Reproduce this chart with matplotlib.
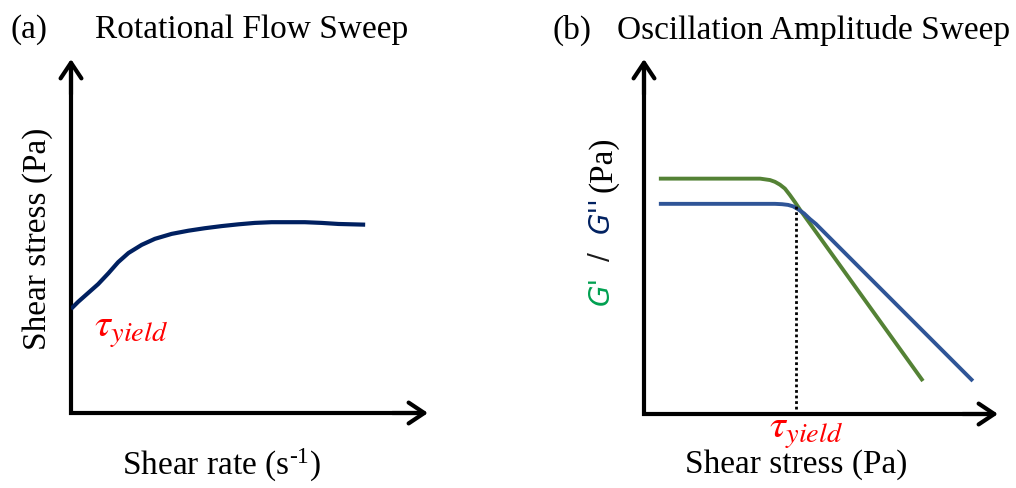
import numpy as np
import matplotlib
matplotlib.use("Agg")
import matplotlib.pyplot as plt

plt.rcParams['font.family'] = ['Liberation Serif', 'DejaVu Serif']
plt.rcParams['mathtext.fontset'] = 'custom'
plt.rcParams['mathtext.rm'] = 'Liberation Serif'
plt.rcParams['mathtext.it'] = 'Liberation Serif:italic'

# (a) rotational flow sweep: shear stress vs shear rate
rate = [0, 2.0, 4.8, 7.6, 10.5, 13.2, 16.1, 19.8, 23.5, 28.2, 32.9, 37.5,
        42.2, 46.9, 51.5, 56.2, 60.9, 65.5, 70.2, 74.9, 82.4]
stress = [29.4, 31.4, 33.9, 36.4, 39.5, 42.6, 45.2, 47.5, 49.2, 50.6, 51.5, 52.2,
          52.8, 53.3, 53.7, 53.9, 53.9, 53.9, 53.7, 53.4, 53.2]

# (b) oscillation amplitude sweep: G' and G'' vs shear stress
g1_x = [4.2, 32.8, 35.6, 37.0, 38.4, 39.8, 41.2, 42.7, 44.1, 78.8]
g1_y = [66.3, 66.3, 65.9, 65.4, 64.6, 63.5, 61.7, 59.6, 57.5, 9.3]
g2_x = [4.2, 37.0, 39.0, 40.7, 42.1, 43.5, 45.2, 46.9, 48.6, 92.9]
g2_y = [59.2, 59.2, 59.1, 58.9, 58.5, 57.7, 56.5, 54.9, 53.5, 9.3]
tau_yield = 43.0

W, H = 1016, 489
fig = plt.figure(figsize=(W / 100, H / 100), dpi=100)


def make_axes(x0, x1, y0, y1):
    ax = fig.add_axes([x0 / W, 1 - y0 / H, (x1 - x0) / W, (y0 - y1) / H])
    ax.set_xlim(0, 100)
    ax.set_ylim(0, 100)
    ax.axis('off')
    # L-shaped axes with open arrow heads
    ax.plot([0, 0, 97], [97, 0, 0], color='black', lw=3,
            solid_joinstyle='miter', solid_capstyle='projecting', clip_on=False)
    for tip, tail in [((100, 0), (90, 0)), ((0, 100), (0, 90))]:
        ax.annotate('', xy=tip, xytext=tail,
                    arrowprops=dict(arrowstyle='->,head_length=0.45,head_width=0.3',
                                    lw=3, color='black', mutation_scale=25,
                                    shrinkA=0, shrinkB=0),
                    annotation_clip=False)
    return ax


ax1 = make_axes(71, 428, 414, 60)
ax1.plot(rate, stress, color='#002060', lw=3, solid_capstyle='butt',
         solid_joinstyle='round')

ax2 = make_axes(644, 998, 415, 60)
ax2.plot(g1_x, g1_y, color='#548235', lw=2.8, solid_capstyle='butt',
         solid_joinstyle='round')
ax2.plot(g2_x, g2_y, color='#2F5597', lw=2.8, solid_capstyle='butt',
         solid_joinstyle='round')
ax2.plot([tau_yield, tau_yield], [1.5, 58.7], color='black', lw=2,
         linestyle=(0, (1, 1)))

fs = 24


def ftext(x, y, s, **kw):
    fig.text(x / W, 1 - y / H, s, **kw)


ftext(10, 30, '(a)', fontsize=fs, va='center', ha='left')
ftext(95, 30, 'Rotational Flow Sweep', fontsize=fs, va='center', ha='left')
ftext(553, 30, '(b)', fontsize=fs, va='center', ha='left')
ftext(617, 30, 'Oscillation Amplitude Sweep', fontsize=fs, va='center', ha='left')

ftext(38, 239, 'Shear stress (Pa)', fontsize=fs, rotation=90, va='center', ha='center')
ftext(221, 465, 'Shear rate (s$^{\\text{-}1}$)', fontsize=fs, va='center', ha='center')
ftext(796, 465, 'Shear stress (Pa)', fontsize=fs, va='center', ha='center')

ftext(94, 331, r'$\tau_{yield}$', fontsize=29, color='#FF0000', va='center',
      ha='left', math_fontfamily='stix')
ftext(806, 433, r'$\tau_{yield}$', fontsize=29, color='#FF0000', va='center',
      ha='center', math_fontfamily='stix')

# multi-coloured y label of panel (b)
sans = dict(family='DejaVu Sans', style='italic', fontsize=20, rotation=90,
            va='center', ha='center')
ftext(601, 290, "G'", color='#00A050', **sans)
ftext(601, 257, "/", color='#1a1a1a', fontsize=19, family='DejaVu Sans',
      rotation=90, va='center', ha='center')
ftext(601, 215, "G''", color='#002060', **sans)
ftext(603, 164, '(Pa)', fontsize=fs, rotation=90, va='center', ha='center')

fig.savefig('out.png', dpi=100)
